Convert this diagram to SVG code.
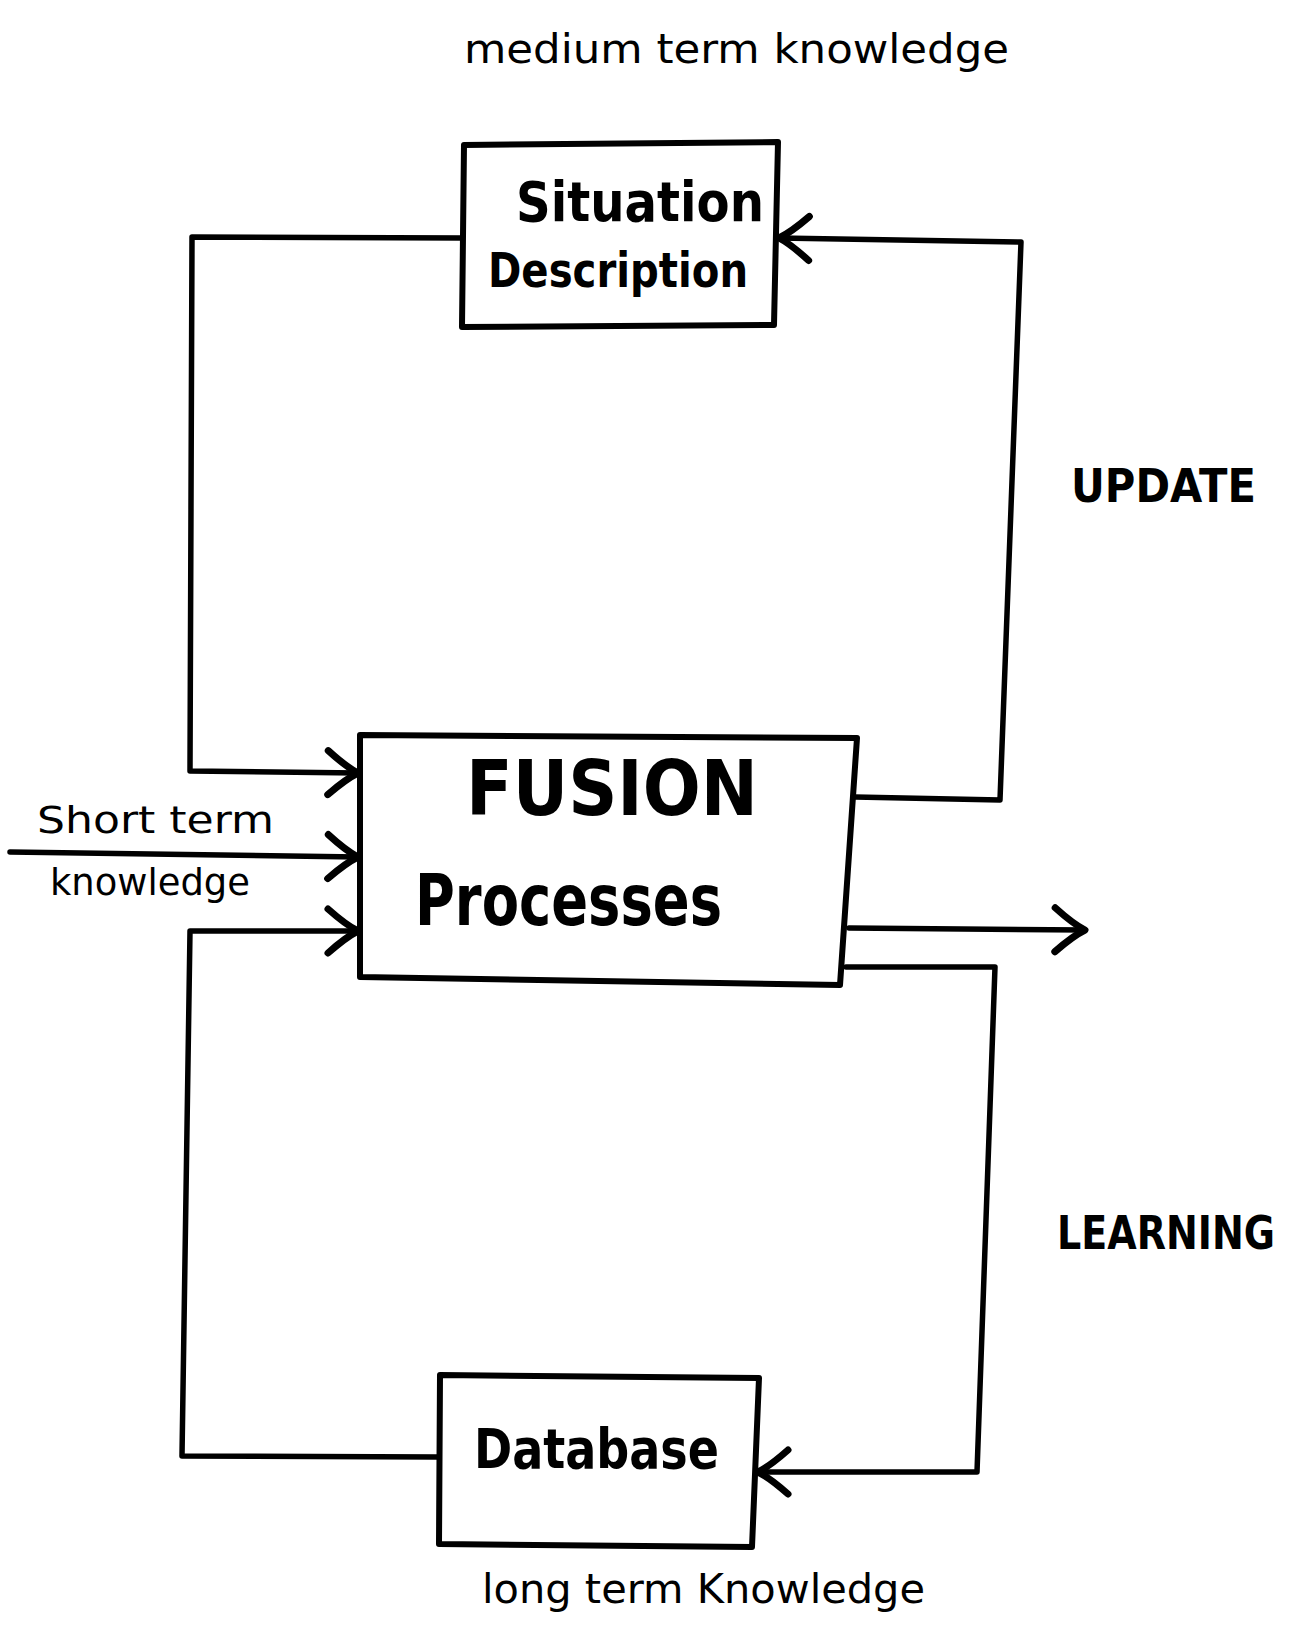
<svg xmlns="http://www.w3.org/2000/svg" width="1289" height="1634" viewBox="0 0 1289 1634">
  <style>
    .box { fill: #fff; stroke: #000; stroke-width: 6; stroke-linejoin: round; }
    .wire { fill: none; stroke: #000; stroke-width: 5.5; stroke-linejoin: round; stroke-linecap: round; }
    .note { font-family: "DejaVu Sans", "Liberation Sans", sans-serif; fill: #000; }
    .label { font-family: "DejaVu Sans", "Liberation Sans", sans-serif; font-weight: bold; fill: #000; }
    .narrow { font-family: "DejaVu Sans Condensed", "DejaVu Sans", "Liberation Sans", sans-serif; font-weight: bold; fill: #000; }
  </style>
  <defs>
    <marker id="chevron" markerUnits="userSpaceOnUse" viewBox="-36 -26 40 52" refX="0" refY="0" markerWidth="40" markerHeight="52" orient="auto" overflow="visible">
      <path d="M-30,-22 Q-12,-6 0,0 Q-12,6 -30,22" fill="none" stroke="#000" stroke-width="7" stroke-linecap="round" stroke-linejoin="round"/>
    </marker>
  </defs>

  <rect width="1289" height="1634" fill="#fff"/>

  <!-- free-standing annotations -->
  <text class="note" x="464" y="63" font-size="40" textLength="545" lengthAdjust="spacingAndGlyphs">medium term knowledge</text>
  <text class="label" x="1071" y="502" font-size="46" textLength="185" lengthAdjust="spacingAndGlyphs">UPDATE</text>
  <text class="narrow" transform="translate(1057,1249) scale(1,1.25)" x="0" y="0" font-size="37" textLength="218" lengthAdjust="spacingAndGlyphs">LEARNING</text>
  <text class="note" x="37" y="833" font-size="38" textLength="237" lengthAdjust="spacingAndGlyphs">Short term</text>
  <text class="note" x="50" y="895" font-size="38" textLength="200" lengthAdjust="spacingAndGlyphs">knowledge</text>
  <text class="note" x="482" y="1603" font-size="40" textLength="443" lengthAdjust="spacingAndGlyphs">long term Knowledge</text>

  <!-- connectors -->
  <g id="connectors">
    <polyline class="wire" points="464,238 192,237 190,771 358,773" marker-end="url(#chevron)"/>
    <polyline class="wire" points="855,797 1000,800 1021,242 779,238" marker-end="url(#chevron)"/>
    <polyline class="wire" points="10,852 358,857" marker-end="url(#chevron)"/>
    <polyline class="wire" points="438,1457 182,1456 190,931 358,931" marker-end="url(#chevron)"/>
    <polyline class="wire" points="849,928 1085,930" marker-end="url(#chevron)"/>
    <polyline class="wire" points="846,967 995,967 977,1472 758,1472" marker-end="url(#chevron)"/>
  </g>

  <!-- nodes -->
  <g id="situation-description">
    <polygon class="box" points="464,145 778,142 774,325 462,327"/>
    <text class="label" x="516" y="221" font-size="56" textLength="248" lengthAdjust="spacingAndGlyphs">Situation</text>
    <text class="label" x="488" y="287" font-size="48" textLength="260" lengthAdjust="spacingAndGlyphs">Description</text>
  </g>

  <g id="fusion-processes">
    <polygon class="box" points="360,735 857,738 840,985 360,977"/>
    <text class="label" x="466" y="815" font-size="76" textLength="292" lengthAdjust="spacingAndGlyphs">FUSION</text>
    <text class="label" x="415" y="925" font-size="72" textLength="307" lengthAdjust="spacingAndGlyphs">Processes</text>
  </g>

  <g id="database">
    <polygon class="box" points="440,1375 759,1378 752,1547 439,1544"/>
    <text class="label" x="474" y="1468" font-size="56" textLength="245" lengthAdjust="spacingAndGlyphs">Database</text>
  </g>
</svg>
